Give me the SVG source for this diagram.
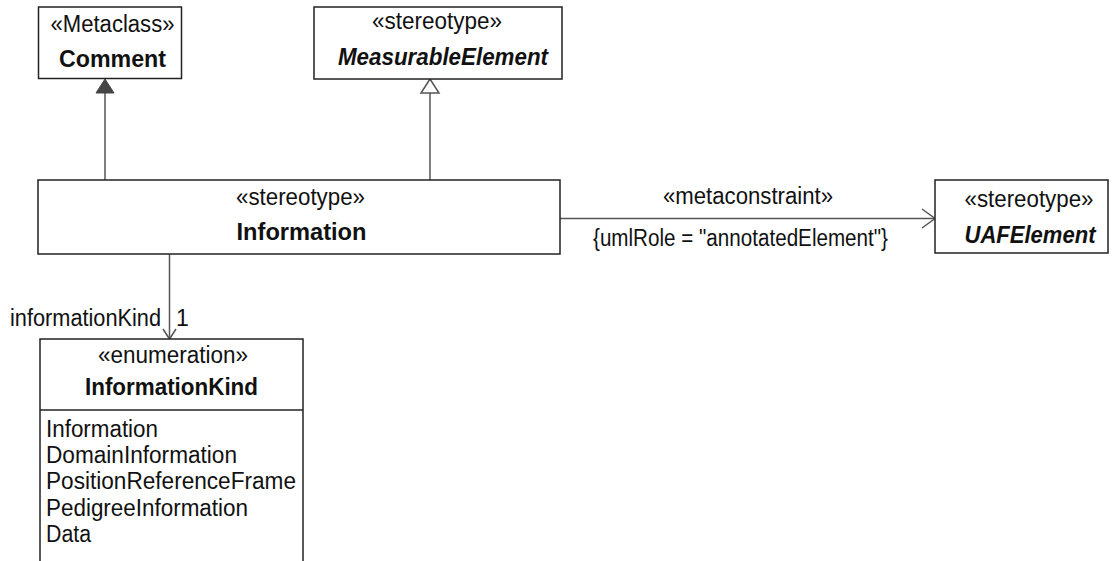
<svg xmlns="http://www.w3.org/2000/svg" width="1112" height="561" viewBox="0 0 1112 561">
<style>
.box{fill:#fff;stroke:#222;stroke-width:1.5}
.t{font-family:"Liberation Sans",Arial,sans-serif;font-size:23px;fill:#111}
.c{text-anchor:middle}
.b{font-weight:bold}
.i{font-style:italic}
.ln{stroke:#555;stroke-width:1.5;fill:none}
</style>
<rect width="1112" height="561" fill="#fff"/>
<g id="connectors">
<line class="ln" x1="105" y1="180" x2="105" y2="93"/>
<polygon points="105,79 96,93 114,93" fill="#444" stroke="#444" stroke-width="1"/>
<line class="ln" x1="430" y1="180" x2="430" y2="93"/>
<polygon points="430,79 421,93 439,93" fill="#fff" stroke="#555" stroke-width="1.5"/>
<line class="ln" x1="560" y1="218.5" x2="934" y2="218.5"/>
<polyline class="ln" points="922,209 935,218.5 922,228"/>
<text class="t c" x="748" y="204" textLength="170" lengthAdjust="spacingAndGlyphs">«metaconstraint»</text>
<text class="t c" x="740.5" y="246" textLength="295" lengthAdjust="spacingAndGlyphs">{umlRole = "annotatedElement"}</text>
<line class="ln" x1="169.5" y1="254" x2="169.5" y2="338"/>
<polyline class="ln" points="163,329 169.5,339 176,329"/>
<text class="t" x="10" y="326" textLength="151" lengthAdjust="spacingAndGlyphs">informationKind</text>
<text class="t" x="176" y="326">1</text>
</g>
<g id="comment">
<rect class="box" x="38.5" y="7" width="143" height="71.5"/>
<text class="t c" x="112.5" y="32" textLength="124" lengthAdjust="spacingAndGlyphs">«Metaclass»</text>
<text class="t c b" x="112.5" y="66.5" textLength="107" lengthAdjust="spacingAndGlyphs">Comment</text>
</g>
<g id="measurable">
<rect class="box" x="314" y="7" width="248" height="72"/>
<text class="t c" x="437" y="29" textLength="130" lengthAdjust="spacingAndGlyphs">«stereotype»</text>
<text class="t c b i" x="443" y="65" textLength="210" lengthAdjust="spacingAndGlyphs">MeasurableElement</text>
</g>
<g id="information">
<rect class="box" x="38" y="180" width="522" height="74"/>
<text class="t c" x="300.5" y="205" textLength="129" lengthAdjust="spacingAndGlyphs">«stereotype»</text>
<text class="t c b" x="301.5" y="240" textLength="130" lengthAdjust="spacingAndGlyphs">Information</text>
</g>
<g id="uafelement">
<rect class="box" x="935" y="180" width="173" height="73"/>
<text class="t c" x="1029" y="207" textLength="129" lengthAdjust="spacingAndGlyphs">«stereotype»</text>
<text class="t c b i" x="1030" y="243" textLength="131" lengthAdjust="spacingAndGlyphs">UAFElement</text>
</g>
<g id="informationkind">
<rect class="box" x="40" y="339" width="263" height="240"/>
<line class="box" x1="40" y1="410" x2="303" y2="410"/>
<text class="t c" x="173" y="363" textLength="150" lengthAdjust="spacingAndGlyphs">«enumeration»</text>
<text class="t c b" x="171.5" y="395" textLength="173" lengthAdjust="spacingAndGlyphs">InformationKind</text>
<text class="t" x="46" y="437" textLength="112" lengthAdjust="spacingAndGlyphs">Information</text>
<text class="t" x="46" y="463" textLength="191" lengthAdjust="spacingAndGlyphs">DomainInformation</text>
<text class="t" x="46" y="489" textLength="250" lengthAdjust="spacingAndGlyphs">PositionReferenceFrame</text>
<text class="t" x="46" y="516" textLength="202" lengthAdjust="spacingAndGlyphs">PedigreeInformation</text>
<text class="t" x="46" y="542" textLength="45" lengthAdjust="spacingAndGlyphs">Data</text>
</g>
</svg>
